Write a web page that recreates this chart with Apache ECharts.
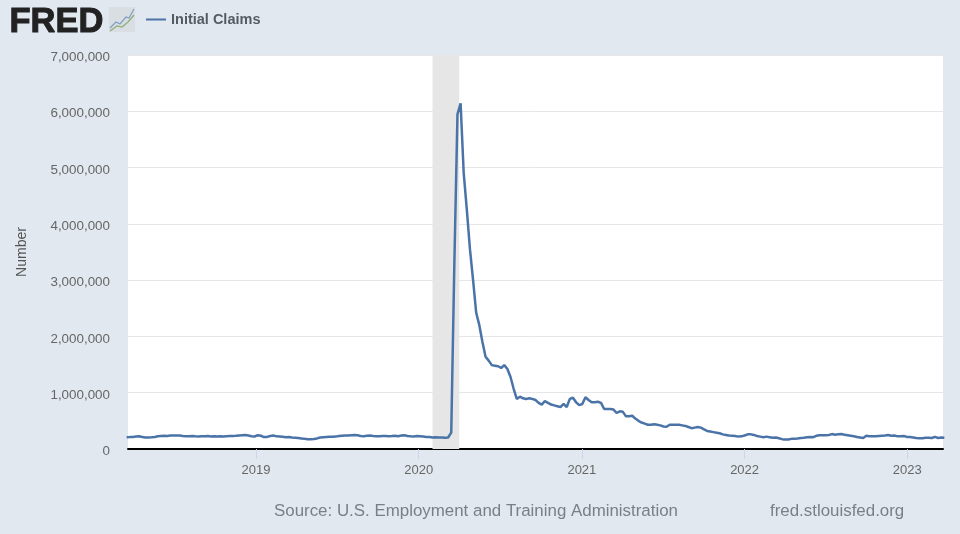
<!DOCTYPE html>
<html>
<head>
<meta charset="utf-8">
<style>html,body{margin:0;padding:0;background:#e1e8f0}#c{width:960px;height:534px}</style>
<script src="https://cdn.jsdelivr.net/npm/echarts@6/dist/echarts.min.js"></script>
</head>
<body>
<div id="c"></div>
<script>
// Weekly initial claims, thousands
const firstWeek = '2018-03-17';
const claims2018 = [210,212,215,222,225,215,205,203,208,215,225,232,235,232,238,240,242,238,232,228,225,230,225,222,228,225,230,222,225,220,226,224,228,230,232,235,240,245,248,238,228,222];
const claims2019 = [245,235,212,215,232,240,225,222,218,210,212,205,200,195,188,180,175,172,178,188,205,210,215,218,218,220,230,235,240,240,245,250,243,232,228,235,238,232,228,225,230,232,228,230,235,228,238,245,232,225,222,232];
const claims2020 = [228,222,215,212,205,208,205,203,200,205,290,3300,5950,6140,4900,4250,3550,3000,2420,2200,1900,1640,1570,1490,1480,1470,1440,1490,1420,1280,1070,890,930,900,890,900,890,870,820,790,850,820,790,775,760,745,800,745,890,910,830,780];
const claims2021 = [800,920,870,830,830,840,820,710,710,710,700,640,670,660,580,580,590,540,500,470,450,430,430,440,430,420,400,395,430,430,430,430,420,410,390,370,380,390,380,350,320,310,300,290,280,260,250,240,235,230,220,225];
const claims2022 = [240,260,260,250,230,220,210,220,210,200,205,190,175,170,170,180,180,185,195,200,210,215,210,235,245,245,245,250,265,255,260,265,255,245,235,225,215,205,195,235,225,225,225,230,235,240,250,235,240,225,225,230,215];
const claims2023 = [215,205,195,190,190,200,200,195,215,195,205,200];
const yearTicks = ['2019-01-01','2020-01-01','2021-01-01','2022-01-01','2023-01-01'];
const recession = ['2020-02-01','2020-04-01'];
const xRange = ['2018-03-20','2023-03-22'];

const values = [].concat(claims2018,claims2019,claims2020,claims2021,claims2022,claims2023);
const WEEK = 7*864e5;
const ts = s => Date.parse(s+'T00:00:00Z');
const t0 = ts(firstWeek);
const seriesData = values.map((v,i)=>[t0+i*WEEK, v*1000]);
const font = '"Liberation Sans", Arial, sans-serif';

const chart = echarts.init(document.getElementById('c'), null, {renderer:'canvas'});
chart.setOption({
  animation:false,
  backgroundColor:'#e1e8f0',
  grid:{left:128,right:17,top:55,bottom:85,show:true,backgroundColor:'#ffffff',borderWidth:0},
  legend:{
    left:141,top:7,itemWidth:20,itemHeight:2,itemGap:5,
    data:[{name:'Initial Claims',icon:'rect'}],
    textStyle:{fontFamily:font,fontSize:14.5,fontWeight:'bold',color:'#555b62'}
  },
  xAxis:{
    type:'value',min:ts(xRange[0]),max:ts(xRange[1]),scale:true,
    axisLine:{show:true,onZero:false,lineStyle:{color:'#000000',width:2}},
    axisTick:{show:true,length:10,lineStyle:{color:'#ccd6eb',width:1},customValues:yearTicks.map(ts)},
    axisLabel:{
      fontFamily:font,fontSize:13,color:'#666666',margin:15,hideOverlap:false,
      customValues:yearTicks.map(ts),
      formatter:v=>String(new Date(v).getUTCFullYear())
    },
    splitLine:{show:false}
  },
  yAxis:{
    type:'value',min:0,max:7000000,interval:1000000,
    name:'Number',nameLocation:'middle',nameGap:99,
    nameTextStyle:{fontFamily:font,fontSize:14,color:'#555555'},
    axisLine:{show:false},axisTick:{show:false},
    axisLabel:{margin:18,
      rich:{t:{fontFamily:font,fontSize:13.4,color:'#666666',padding:[5,0,0,0]}},
      formatter:v=>'{t|'+v.toLocaleString('en-US')+'}'},
    splitLine:{lineStyle:{color:'#e6e6e6',width:1}}
  },
  series:[{
    name:'Initial Claims',type:'line',data:seriesData,showSymbol:false,smooth:false,clip:true,
    lineStyle:{color:'#4a73a8',width:2.5},itemStyle:{color:'#4a73a8'},
    markArea:{silent:true,itemStyle:{color:'#e6e6e6',opacity:1},label:{show:false},
      data:[[{xAxis:ts(recession[0])},{xAxis:ts(recession[1])}]]},
    z:3
  }],
  graphic:[
    {type:'text',left:9,top:4,style:{text:'FRED',font:'bold 34.5px '+font,fill:'#222222',stroke:'#222222',lineWidth:1}},
    {type:'rect',shape:{x:109,y:7,width:26,height:25},style:{fill:'#d9dee2'}},
    {type:'polyline',shape:{points:[[110,28],[116,22],[120,24],[126,17],[129,18],[134,9]]},style:{stroke:'#7f9fc4',lineWidth:1.2,fill:null}},
    {type:'polyline',shape:{points:[[110,31],[117,26],[122,27],[128,22],[134,15]]},style:{stroke:'#8fae78',lineWidth:1.2,fill:null}},
    {type:'text',left:274,top:503,style:{text:'Source: U.S. Employment and Training Administration',font:'16.9px '+font,fill:'#7b7f84'}},
    {type:'text',left:770,top:503,style:{text:'fred.stlouisfed.org',font:'16.9px '+font,fill:'#7b7f84'}}
  ]
});
</script>
</body>
</html>
